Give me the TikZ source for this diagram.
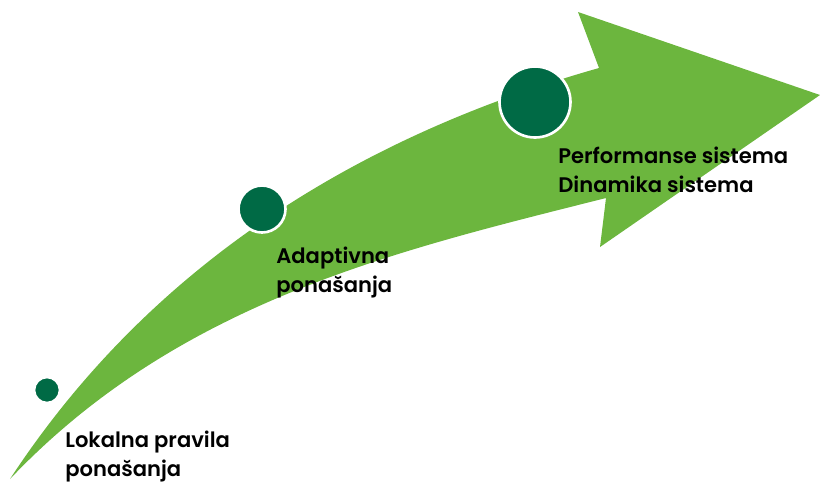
\documentclass[tikz,border=0pt]{standalone}
\usepackage{fontspec}
\setmainfont{Poppins SemiBold}
\usepackage{tikz}
\definecolor{leafgreen}{RGB}{108,182,62}
\definecolor{darkgreen}{RGB}{0,106,69}
\tikzset{
  dot/.style={circle, fill=darkgreen, draw=white, line width=1.5pt, inner sep=0pt},
  label/.style={anchor=north west, inner sep=0pt, align=left, font=\fontsize{12}{16}\selectfont}
}
\begin{document}
\begin{tikzpicture}[x=0.02cm, y=-0.02cm]
  \useasboundingbox (0,0) rectangle (820,481);
  % curved arrow
  \fill[leafgreen] (10,479) .. controls (160,250) and (380,130) .. (599,68)
    -- (578,12) -- (820,95) -- (600,247) -- (606,198)
    .. controls (400,250) and (180,300) .. (10,479) -- cycle;
  % steps
  \node[dot, minimum size=0.52cm] (c1) at (47,390) {};
  \node[dot, minimum size=0.94cm] (c2) at (262,209) {};
  \node[dot, minimum size=1.42cm] (c3) at (535,102) {};
  \node[label] (t1) at (65,431) {Lokalna pravila\\ponašanja};
  \node[label] (t2) at (276,247) {Adaptivna\\ponašanja};
  \node[label] (t3) at (558,147) {Performanse sistema\\Dinamika sistema};
\end{tikzpicture}
\end{document}
